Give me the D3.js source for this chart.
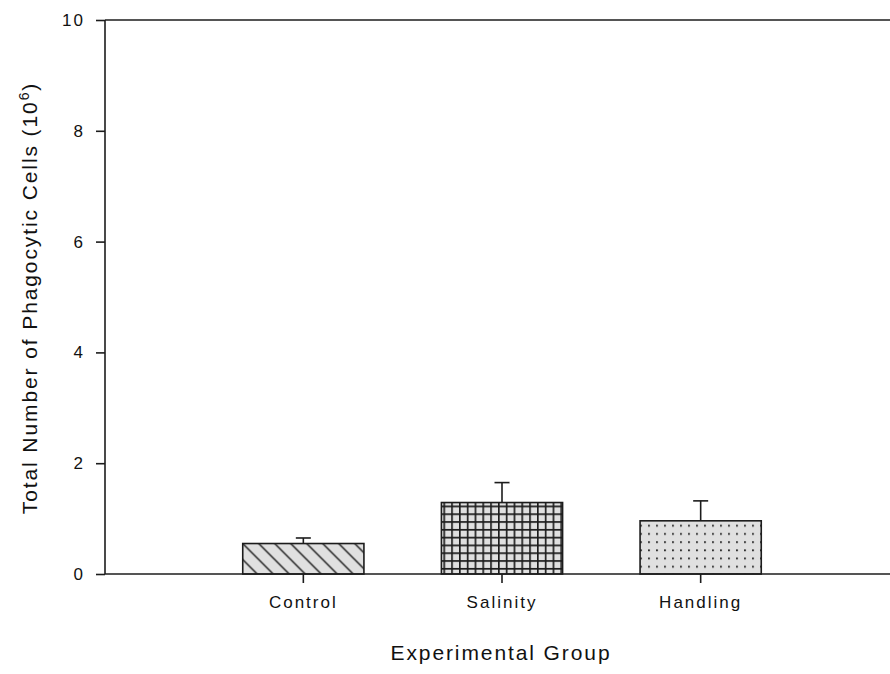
<!DOCTYPE html>
<html>
<head>
<meta charset="utf-8">
<script src="https://cdn.jsdelivr.net/npm/d3@7"></script>
<style>
  html, body { margin: 0; padding: 0; background: #fff; }
  svg { display: block; }
  text { font-family: "Liberation Sans", Arial, sans-serif; fill: #111; }
</style>
</head>
<body>
<svg id="chart" width="890" height="674"></svg>
<script>
// Phagocytic cell counts per experimental group (mean ± SE, ×10^6)
const categories = ["Control", "Salinity", "Handling"];
const means = [0.55, 1.29, 0.96];
const errors = [0.10, 0.36, 0.36];
const yTicks = [0, 2, 4, 6, 8, 10];
const patterns = ["hatch", "grid", "dots"];

const svg = d3.select("#chart");
const ink = "#1c1c1c";

const plotLeft = 105, plotTop = 20, plotBottom = 574, plotRight = 900;

const y = d3.scaleLinear().domain([0, 10]).range([plotBottom, plotTop]);
const x = d3.scaleBand()
  .domain(categories)
  .range([204, 800])
  .paddingInner(0.39)
  .paddingOuter(0.195);

// fill patterns
const defs = svg.append("defs");
const fillGray = "#e0e0e0";

const hatch = defs.append("pattern").attr("id", "hatch")
  .attr("patternUnits", "userSpaceOnUse").attr("width", 16).attr("height", 16)
  .attr("x", x("Control")).attr("y", y(means[0]));
hatch.append("rect").attr("width", 16).attr("height", 16).attr("fill", fillGray);
hatch.append("path").attr("d", "M-4,-4 L20,20 M-4,12 L4,20 M12,-4 L20,4")
  .attr("stroke", ink).attr("stroke-width", 1.4);

const grid = defs.append("pattern").attr("id", "grid")
  .attr("patternUnits", "userSpaceOnUse").attr("width", 7.8).attr("height", 7.8)
  .attr("x", x("Salinity") + 2).attr("y", y(means[1]) + 3);
grid.append("rect").attr("width", 7.8).attr("height", 7.8).attr("fill", fillGray);
grid.append("path").attr("d", "M0.8,0 V7.8 M0,0.8 H7.8")
  .attr("stroke", ink).attr("stroke-width", 1.7);

const dots = defs.append("pattern").attr("id", "dots")
  .attr("patternUnits", "userSpaceOnUse").attr("width", 8).attr("height", 8.2)
  .attr("x", x("Handling") + 5).attr("y", y(means[2]) + 1);
dots.append("rect").attr("width", 8).attr("height", 8.2).attr("fill", fillGray);
dots.append("rect").attr("x", 3).attr("y", 3).attr("width", 1.8).attr("height", 1.8).attr("fill", "#222");

// bars
svg.append("g").selectAll("rect")
  .data(categories)
  .join("rect")
  .attr("x", d => x(d))
  .attr("y", (d, i) => y(means[i]))
  .attr("width", x.bandwidth())
  .attr("height", (d, i) => y(0) - y(means[i]))
  .attr("fill", (d, i) => `url(#${patterns[i]})`)
  .attr("stroke", ink)
  .attr("stroke-width", 1.6);

// error bars (upper only)
const eb = svg.append("g").attr("stroke", ink).attr("stroke-width", 1.6);
categories.forEach((c, i) => {
  const cx = x(c) + x.bandwidth() / 2;
  eb.append("line").attr("x1", cx).attr("x2", cx)
    .attr("y1", y(means[i])).attr("y2", y(means[i] + errors[i]));
  eb.append("line").attr("x1", cx - 7.5).attr("x2", cx + 7.5)
    .attr("y1", y(means[i] + errors[i])).attr("y2", y(means[i] + errors[i]));
});

// frame: left axis, top and bottom lines
const frame = svg.append("g").attr("stroke", ink).attr("stroke-width", 1.6).attr("fill", "none");
frame.append("line").attr("x1", plotLeft).attr("x2", plotLeft).attr("y1", y(10)).attr("y2", y(0));
frame.append("line").attr("x1", plotLeft).attr("x2", plotRight).attr("y1", y(10)).attr("y2", y(10));
frame.append("line").attr("x1", plotLeft).attr("x2", plotRight).attr("y1", y(0)).attr("y2", y(0));

// y axis
const yAxis = d3.axisLeft(y).tickValues(yTicks).tickSize(9).tickPadding(11).tickFormat(d3.format("d"));
const yg = svg.append("g").attr("transform", `translate(${plotLeft},0)`).call(yAxis);
yg.select(".domain").remove();
yg.selectAll(".tick line").attr("stroke", ink).attr("stroke-width", 1.6);
yg.selectAll(".tick text")
  .attr("font-size", 17).attr("letter-spacing", "2px").attr("fill", "#111");

// x axis
const xAxis = d3.axisBottom(x).tickSize(9).tickPadding(13);
const xg = svg.append("g").attr("transform", `translate(0,${plotBottom})`).call(xAxis);
xg.select(".domain").remove();
xg.selectAll(".tick line").attr("stroke", ink).attr("stroke-width", 1.6);
xg.selectAll(".tick text")
  .attr("font-size", 17).attr("letter-spacing", "2px").attr("fill", "#111");

// axis titles
svg.append("text")
  .attr("x", 501).attr("y", 660)
  .attr("text-anchor", "middle")
  .attr("font-size", 21).attr("letter-spacing", "1.9px")
  .text("Experimental Group");

const yt = svg.append("text")
  .attr("transform", "translate(37,298) rotate(-90)")
  .attr("text-anchor", "middle")
  .attr("font-size", 21).attr("letter-spacing", "1.9px");
yt.append("tspan").text("Total Number of Phagocytic Cells (10");
yt.append("tspan").attr("dy", -8).attr("font-size", 14).text("6");
yt.append("tspan").attr("dy", 8).text(")");
</script>
</body>
</html>
